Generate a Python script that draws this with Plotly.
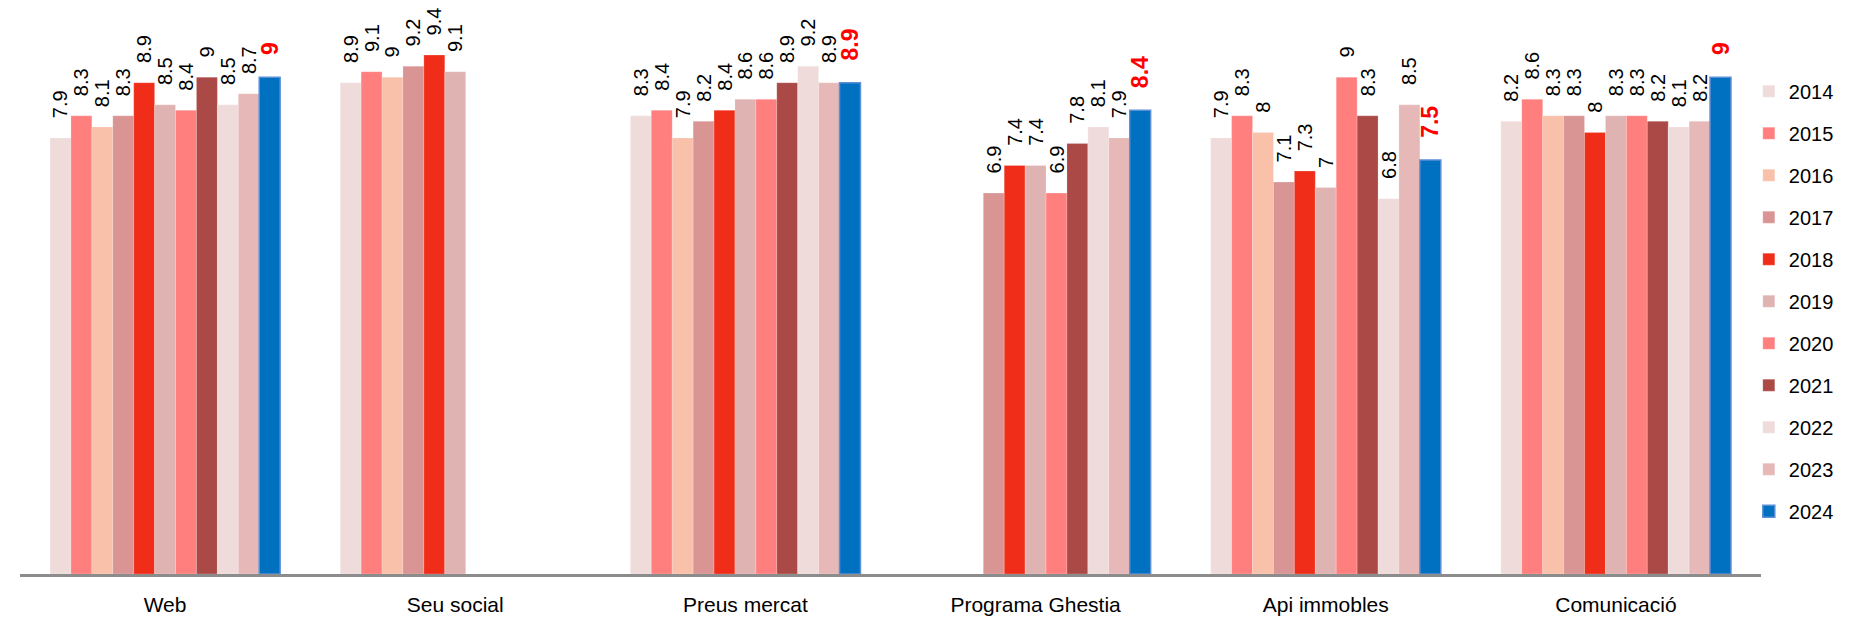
import plotly.graph_objects as go

categories = ["Web", "Seu social", "Preus mercat", "Programa Ghestia", "Api immobles", "Comunicació"]
years = ["2014", "2015", "2016", "2017", "2018", "2019", "2020", "2021", "2022", "2023", "2024"]

# values per year, in category order (None = no bar)
v2014 = [7.9, 8.9, 8.3, None, 7.9, 8.2]
v2015 = [8.3, 9.1, 8.4, None, 8.3, 8.6]
v2016 = [8.1, 9.0, 7.9, None, 8.0, 8.3]
v2017 = [8.3, 9.2, 8.2, 6.9, 7.1, 8.3]
v2018 = [8.9, 9.4, 8.4, 7.4, 7.3, 8.0]
v2019 = [8.5, 9.1, 8.6, 7.4, 7.0, 8.3]
v2020 = [8.4, None, 8.6, 6.9, 9.0, 8.3]
v2021 = [9.0, None, 8.9, 7.8, 8.3, 8.2]
v2022 = [8.5, None, 9.2, 8.1, 6.8, 8.1]
v2023 = [8.7, None, 8.9, 7.9, 8.5, 8.2]
v2024 = [9.0, None, 8.9, 8.4, 7.5, 9.0]

series = [v2014, v2015, v2016, v2017, v2018, v2019, v2020, v2021, v2022, v2023, v2024]
colors = ["#f0dbdb", "#ff7f7f", "#f9c0aa", "#d99594", "#f02d19", "#e0b3b3",
          "#ff7f7f", "#ab4946", "#f0dbdb", "#e6b8b7", "#0070c0"]

fig = go.Figure()
PAD = "\u00a0\u00a0\u00a0"
for i, (yr, vals, col) in enumerate(zip(years, series, colors)):
    last = (i == len(years) - 1)
    texts = [None if v is None else PAD + (f"{v:g}") for v in vals]
    fig.add_trace(go.Bar(
        name=yr, x=categories, y=vals,
        marker=dict(color=col, line=dict(color="#5b8fd6" if last else "rgba(255,255,255,0.4)",
                                         width=1.5 if last else 0.5)),
        text=texts, textposition="outside", textangle=-90,
        textfont=dict(family="Liberation Sans, Arial", size=23 if last else 20,
                      color="#ff0000" if last else "#000000",
                      weight="bold" if last else "normal"),
        constraintext="none", cliponaxis=False,
        legendgroup=yr,
    ))

fig.update_layout(
    width=1864, height=627,
    barmode="group", bargap=0.207, bargroupgap=0,
    plot_bgcolor="white", paper_bgcolor="white",
    margin=dict(l=12, r=111, t=14, b=61, autoexpand=False),
    showlegend=True,
    legend=dict(x=0.993, xanchor="left", y=0.91, yanchor="top",
                font=dict(family="Liberation Sans, Arial", size=20, color="#000000"),
                tracegroupgap=13, itemwidth=30, bgcolor="rgba(0,0,0,0)"),
    xaxis=dict(showline=True, linecolor="#8c8c8c", linewidth=2.5, ticks="",
               ticklabelstandoff=10,
               tickfont=dict(family="Liberation Sans Narrow, Liberation Sans, Arial", size=21, color="#000000"),
               showgrid=False),
    yaxis=dict(range=[0, 10], visible=False, showgrid=False, zeroline=False),
    uniformtext=dict(mode=False),
)

fig.write_html("out.html")
